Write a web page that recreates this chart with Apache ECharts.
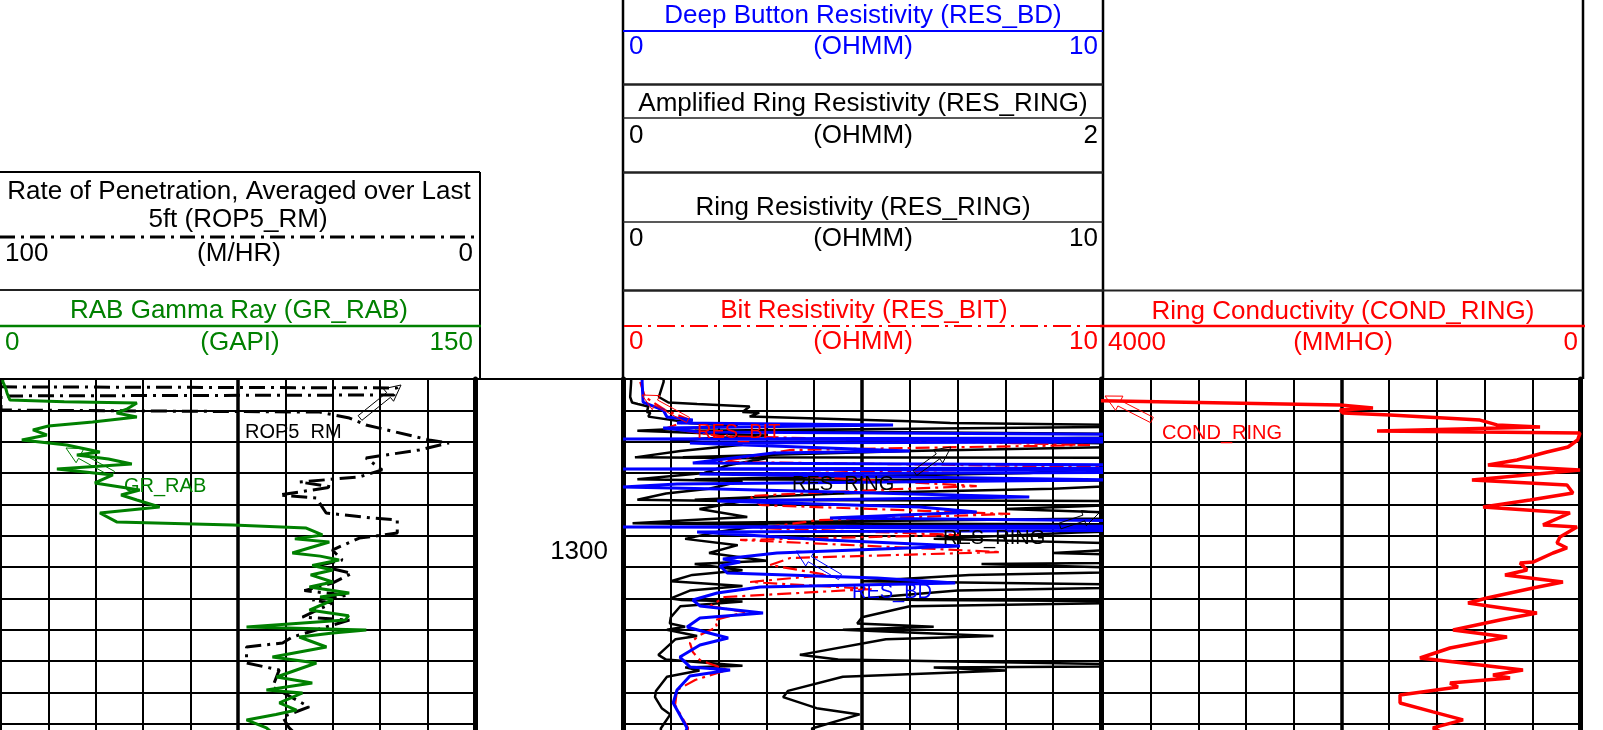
<!DOCTYPE html>
<html>
<head>
<meta charset="utf-8">
<script src="https://cdn.jsdelivr.net/npm/echarts@6/dist/echarts.min.js"></script>
<style>
html, body { margin: 0; padding: 0; background: #fff; }
#main { width: 1603px; height: 730px; }
</style>
</head>
<body>
<div id="main"></div>
<script>
// depth (m) top / bottom of the plotted window, grid rows are 2 m
const depthTop = 1289
const depthBottom = 1314.52
const rowCount = 12.76
const depthLabels = [1300]

// [depth, value] pairs
const gr = [[1289.0, 0.5], [1289.19, 0.6], [1289.6, 1.5], [1289.89, 1.9], [1290.34, 2.8], [1290.45, 20], [1290.53, 43], [1290.9, 40],
  [1291.17, 36.6], [1291.42, 43], [1291.74, 29], [1292.0, 15], [1292.25, 10.1], [1292.57, 14.5], [1292.89, 6.6], [1293.21, 20.8],
  [1293.66, 31.3], [1293.85, 24], [1294.1, 34], [1294.42, 41.4], [1294.74, 17.7], [1295.12, 35.4], [1295.63, 29.7], [1296.08, 43.9],
  [1296.4, 38], [1296.72, 43], [1297.17, 50.2], [1297.55, 31.3], [1298.12, 36.6], [1298.31, 73.3], [1298.51, 96.6], [1298.95, 101.7],
  [1299.2, 93], [1299.4, 103.9], [1300.1, 92.2], [1300.3, 101], [1300.55, 107], [1300.9, 98.5], [1301.19, 105], [1301.5, 98],
  [1301.95, 105], [1302.27, 97.6], [1302.65, 110.2], [1302.9, 101], [1303.1, 105], [1303.74, 97.6], [1304.1, 110], [1304.38, 109],
  [1304.82, 77.7], [1305.01, 115.6], [1305.2, 105], [1305.46, 94.4], [1306.1, 103], [1306.74, 85.9], [1307.12, 99.8], [1308.01, 87.2],
  [1308.39, 98.5], [1308.84, 84], [1309.03, 95.4], [1309.67, 88.1], [1310.12, 93.5], [1310.4, 87], [1310.75, 77.7], [1311.26, 84], [1311.6, 86]]

const rop = [[1289.5, 100], [1289.57, 16.4], [1290.02, 17.1], [1290.08, 100], [1290.98, 100], [1291.11, 32.8], [1291.49, 26.5],
  [1291.93, 23], [1292.89, 9.7], [1293.08, 5.5], [1293.53, 11.8], [1294.04, 23], [1294.8, 19.6], [1295.25, 24.4], [1295.57, 37],
  [1295.89, 30.1], [1296.4, 41.3], [1296.59, 33.5], [1297.55, 31.4], [1297.87, 21.7], [1298.0, 16.4], [1298.83, 16.4], [1299.15, 24.4],
  [1299.91, 30.1], [1300.55, 28], [1300.9, 33], [1301.4, 26], [1302.02, 30.1], [1302.5, 36], [1302.8, 27], [1303.1, 34.3],
  [1303.29, 30.1], [1304.19, 36.4], [1304.38, 26.5], [1305.46, 38.5], [1305.84, 40.6], [1306.1, 48.2], [1307.12, 48.2], [1307.56, 41.3],
  [1308.65, 42.7], [1309.92, 35], [1310.56, 40.6], [1311.26, 39.2], [1311.6, 38]]

const resBd = [[1289.0, 0.4], [1289.19, 0.4], [1290.47, 0.42], [1290.98, 0.84], [1291.42, 0.92], [1291.62, 1.46], [1291.81, 1.13],
  [1291.93, 5.65], [1292.13, 0.84], [1292.38, 1.61], [1292.7, 20], [1292.83, 0], [1292.96, 20], [1293.08, 1.4], [1293.6, 6.0],
  [1293.72, 3.14], [1294.36, 1.46], [1294.61, 20], [1294.74, 0], [1294.87, 20], [1295.06, 1.6], [1295.44, 10.4], [1295.7, 1.13],
  [1295.89, 0], [1296.02, 2], [1296.53, 8.5], [1296.78, 1.97], [1297.17, 6.2], [1297.49, 7.4], [1297.87, 4.33], [1298.31, 20],
  [1298.44, 0], [1298.57, 20], [1298.76, 1.55], [1299.27, 4.27], [1299.66, 7.05], [1300.1, 3.22], [1300.48, 2.09], [1300.67, 2.45],
  [1300.93, 2.03], [1301.38, 2.18], [1301.69, 5.31], [1302.01, 6.95], [1302.27, 2.87], [1302.65, 1.97], [1303.1, 1.46], [1303.48, 1.61],
  [1303.93, 2.93], [1304.25, 1.61], [1304.82, 1.34], [1305.14, 1.72], [1305.52, 2.2], [1305.97, 1.61], [1306.74, 1.19], [1307.37, 1.4],
  [1307.56, 2.24], [1307.95, 1.4], [1308.84, 1.13], [1309.67, 1.05], [1310.44, 1.19], [1311.26, 1.34], [1311.6, 1.3]]

const resBit = [[1289.19, 0.36], [1290.15, 0.46], [1290.98, 0.88], [1291.62, 1.4], [1292.13, 0.92], [1292.64, 2.03], [1293.21, 9.77],
  [1293.53, 3.49], [1294.29, 2.03], [1294.61, 10.2], [1295.06, 2.87], [1295.83, 7.4], [1296.08, 5.3], [1296.46, 2.66], [1297.04, 2.87],
  [1297.61, 8.1], [1298.0, 4.1], [1298.51, 2.87], [1298.95, 7.05], [1299.27, 2.45], [1300.04, 7.9], [1300.42, 3.5], [1300.87, 3.08],
  [1301.5, 4.27], [1301.95, 2.66], [1302.4, 5.2], [1302.91, 2.13], [1303.48, 1.82], [1303.87, 2.55], [1304.38, 1.92], [1304.82, 1.97],
  [1305.33, 1.61], [1305.84, 1.4], [1306.42, 1.46], [1306.93, 1.61], [1307.56, 2.18], [1308.2, 1.51], [1308.84, 1.13], [1309.8, 1.09],
  [1311.26, 1.36], [1311.6, 1.35]]

const resRing = [[1289.0, 0.17], [1289.19, 0.17], [1290.15, 0.15], [1290.5, 0.19], [1290.6, 0.31], [1290.75, 0.53], [1291.1, 0.5],
  [1291.15, 0.57], [1291.4, 0.53], [1291.7, 1.2], [1291.8, 1.37], [1292.0, 2.4], [1292.3, 0.3], [1292.6, 3.0], [1292.9, 1.0],
  [1293.2, 2.5], [1293.6, 1.2], [1294.0, 0.25], [1294.05, 3.0], [1294.5, 2.2], [1295.0, 1.7], [1295.4, 0.3], [1295.5, 2.5],
  [1296.0, 1.8], [1296.3, 0.9], [1296.7, 0.3], [1296.8, 2.5], [1297.3, 1.6], [1297.8, 2.6], [1298.2, 0.2], [1298.3, 3.0],
  [1298.8, 1.9], [1299.2, 1.3], [1299.6, 2.4], [1300.1, 1.8], [1300.6, 3.0], [1300.8, 1.5], [1301.2, 2.5], [1301.5, 1.45],
  [1301.9, 1.0], [1302.2, 2.5], [1302.5, 1.4], [1303.0, 1.0], [1303.1, 1.23], [1303.2, 2.5], [1303.5, 1.2], [1304.2, 1.0],
  [1304.6, 0.98], [1304.8, 1.3], [1305.0, 0.92], [1305.4, 1.55], [1305.6, 1.1], [1306.6, 0.74], [1306.9, 0.9], [1307.3, 2.5],
  [1307.4, 1.3], [1307.6, 1.6], [1308.0, 0.92], [1308.9, 0.69], [1309.3, 0.67], [1310.0, 0.81], [1310.4, 0.99], [1311.3, 0.79], [1311.6, 0.8]]

const condRing = [[1289.0, 5000], [1290.38, 4100], [1290.66, 2013], [1290.85, 1736], [1290.98, 2013], [1291.17, 1987], [1291.3, 1593],
  [1291.62, 839], [1291.93, 696], [1292.06, 335], [1292.32, 1702], [1292.45, 0], [1292.89, 20], [1293.34, 100], [1293.66, 277],
  [1294.17, 528], [1294.49, 772], [1294.81, 0], [1295.44, 906], [1295.76, 109], [1296.27, 59], [1296.72, 419], [1297.17, 813],
  [1297.55, 84], [1298.31, 310], [1298.44, 25], [1299.08, 168], [1299.46, 193], [1299.78, 109], [1300.1, 226], [1300.68, 394],
  [1300.74, 503], [1301.19, 444], [1301.5, 629], [1301.95, 143], [1302.33, 394], [1302.97, 780], [1303.29, 939], [1303.93, 361],
  [1304.38, 671], [1305.01, 1065], [1305.46, 612], [1306.16, 1090], [1306.8, 1342], [1307.56, 478], [1307.88, 730], [1308.08, 587],
  [1308.4, 1090], [1308.65, 1023], [1309.16, 1509], [1309.67, 1509], [1310.24, 1233], [1310.75, 981], [1311.26, 1233], [1311.6, 1150]]

const font = 'Liberation Sans, Arial, Helvetica, sans-serif'
const GREEN = '#008000'
const BLUE = '#0000ff'
const RED = '#ff0000'

const chartInstance = echarts.init(document.getElementById('main'), null, { renderer: 'canvas' })

// axis helpers
function depthAxis(gridIndex, lineWidth, showLabel) {
  return {
    type: 'value', gridIndex, position: 'left', inverse: true,
    min: depthTop, max: depthBottom,
    axisLine: { show: true, onZero: false, lineStyle: { color: '#000', width: lineWidth } },
    axisTick: { show: false },
    splitLine: { show: false },
    axisLabel: showLabel ? {
      show: true, customValues: depthLabels, margin: 15, padding: [4, 0, 0, 0],
      fontSize: 26, fontFamily: font, color: '#000',
      formatter: v => String(v)
    } : { show: false }
  }
}
function rowAxis(gridIndex) {
  return {
    type: 'value', gridIndex, position: 'right', inverse: true,
    min: 0, max: rowCount, interval: 1,
    axisLine: { show: true, onZero: false, lineStyle: { color: '#000', width: 5 } },
    axisTick: { show: false }, axisLabel: { show: false },
    splitLine: { show: true, showMinLine: true, showMaxLine: false, lineStyle: { color: '#000', width: 2 } }
  }
}
function gridLineAxis(gridIndex, max, width) {
  return {
    type: 'value', gridIndex, position: 'top', min: 0, max, interval: 1,
    axisLine: { show: false }, axisTick: { show: false }, axisLabel: { show: false },
    splitLine: { show: true, showMinLine: false, showMaxLine: false, lineStyle: { color: '#000', width } }
  }
}
function curveAxis(gridIndex, min, max, inverse) {
  return { type: 'value', gridIndex, min, max, inverse: !!inverse, show: false }
}
function curve(name, pairs, xAxisIndex, yAxisIndex, color, width, type, z) {
  return {
    name, type: 'line', xAxisIndex, yAxisIndex,
    data: pairs.map(p => [p[1], p[0]]),
    showSymbol: false, symbol: 'none', animation: false, clip: true, z: z,
    lineStyle: { color, width, type: type || 'solid' }
  }
}

// header helpers
function txt(text, x, y, color, align, size) {
  return {
    type: 'text', x, y, z: 20,
    style: { text, fill: color, fontSize: size || 26, fontFamily: font, textAlign: align || 'center', textVerticalAlign: 'middle' }
  }
}
function hline(x1, x2, y, color, width, dash) {
  return { type: 'line', z: 20, shape: { x1, y1: y, x2, y2: y }, style: { stroke: color, lineWidth: width, lineDash: dash || null } }
}
function vline(x, y1, y2, color, width) {
  return { type: 'line', z: 20, shape: { x1: x, y1, x2: x, y2 }, style: { stroke: color, lineWidth: width } }
}
// hollow arrow used to tag the curves
function arrow(x1, y1, x2, y2, color) {
  const dx = x2 - x1, dy = y2 - y1
  const len = Math.sqrt(dx * dx + dy * dy)
  const ux = dx / len, uy = dy / len
  const nx = -uy, ny = ux
  const hx = x2 - ux * 16, hy = y2 - uy * 16
  const pts = [
    [x1 + nx * 3, y1 + ny * 3], [hx + nx * 3, hy + ny * 3], [hx + nx * 8, hy + ny * 8], [x2, y2],
    [hx - nx * 8, hy - ny * 8], [hx - nx * 3, hy - ny * 3], [x1 - nx * 3, y1 - ny * 3]
  ]
  return { type: 'polygon', z: 20, shape: { points: pts }, style: { fill: 'rgba(255,255,255,0)', stroke: color, lineWidth: 1 } }
}
function tag(text, tx, ty, ax1, ay1, ax2, ay2, color) {
  return [txt(text, tx, ty, color, 'left', 20), arrow(ax1, ay1, ax2, ay2, color)]
}

const graphics = [
  // track 1 header
  hline(0, 480, 172, '#000', 2),
  vline(480, 172, 379, '#000', 2),
  txt('Rate of Penetration, Averaged over Last', 239, 192, '#000'),
  txt('5ft (ROP5_RM)', 238, 220, '#000'),
  hline(0, 480, 237, '#000', 3, [15, 6, 3, 6]),
  txt('100', 5, 254, '#000', 'left'),
  txt('(M/HR)', 239, 254, '#000'),
  txt('0', 473, 254, '#000', 'right'),
  hline(0, 480, 290, '#222', 2),
  txt('RAB Gamma Ray (GR_RAB)', 239, 311, GREEN),
  hline(0, 481, 326, GREEN, 2.5),
  txt('0', 5, 343, GREEN, 'left'),
  txt('(GAPI)', 240, 343, GREEN),
  txt('150', 473, 343, GREEN, 'right'),
  hline(0, 1583, 379, '#000', 2),
  // resistivity header
  vline(623, 0, 379, '#000', 2.5),
  vline(1103, 0, 379, '#000', 2.5),
  txt('Deep Button Resistivity (RES_BD)', 863, 16, BLUE),
  hline(623, 1103, 31, BLUE, 2),
  txt('0', 629, 47, BLUE, 'left'),
  txt('(OHMM)', 863, 47, BLUE),
  txt('10', 1098, 47, BLUE, 'right'),
  hline(623, 1103, 84.5, '#222', 2.5),
  txt('Amplified Ring Resistivity (RES_RING)', 863, 104, '#000'),
  hline(623, 1103, 118, '#222', 1.5),
  txt('0', 629, 136, '#000', 'left'),
  txt('(OHMM)', 863, 136, '#000'),
  txt('2', 1098, 136, '#000', 'right'),
  hline(623, 1103, 172.5, '#222', 2.5),
  txt('Ring Resistivity (RES_RING)', 863, 208, '#000'),
  hline(623, 1103, 222, '#222', 1.5),
  txt('0', 629, 239, '#000', 'left'),
  txt('(OHMM)', 863, 239, '#000'),
  txt('10', 1098, 239, '#000', 'right'),
  hline(623, 1103, 290.5, '#222', 2.5),
  txt('Bit Resistivity (RES_BIT)', 864, 311, RED),
  hline(624, 1110, 326, RED, 2, [18, 6, 3, 6]),
  txt('0', 629, 342, RED, 'left'),
  txt('(OHMM)', 863, 342, RED),
  txt('10', 1098, 342, RED, 'right'),
  // conductivity header
  vline(1583, 0, 379, '#000', 2.5),
  hline(1103, 1583, 290.5, '#222', 2),
  txt('Ring Conductivity (COND_RING)', 1343, 312, RED),
  hline(1100, 1585, 326, RED, 2.5),
  txt('4000', 1108, 343, RED, 'left'),
  txt('(MMHO)', 1343, 343, RED),
  txt('0', 1578, 343, RED, 'right')
].concat(
  tag('ROP5_RM', 245, 432, 360, 418, 401, 385, '#000'),
  tag('GR_RAB', 124, 486, 113, 474, 66, 448, GREEN),
  tag('RES_BIT', 697, 432, 688, 420, 642, 395, RED),
  tag('RES_RING', 792, 484, 915, 473, 951, 447, '#000'),
  tag('RES_RING', 943, 538, 1060, 526, 1099, 513, '#000'),
  tag('RES_BD', 852, 592, 840, 577, 796, 551, BLUE),
  tag('COND_RING', 1162, 433, 1152, 420, 1105, 396, RED)
)

const option = {
  backgroundColor: '#fff',
  animation: false,
  grid: [
    { left: 1, top: 379, width: 474, height: 400, outerBoundsMode: 'none', containLabel: false },
    { left: 623, top: 379, width: 478, height: 400, outerBoundsMode: 'none', containLabel: false },
    { left: 1103, top: 379, width: 477, height: 400, outerBoundsMode: 'none', containLabel: false }
  ],
  xAxis: [
    gridLineAxis(0, 10, 2),      // 0
    gridLineAxis(0, 2, 3.5),     // 1 centre line
    curveAxis(0, 0, 150),        // 2 GR
    curveAxis(0, 0, 100, true),  // 3 ROP
    gridLineAxis(1, 10, 2),      // 4
    gridLineAxis(1, 2, 3.5),     // 5
    curveAxis(1, 0, 10),         // 6 RES_BD / RES_BIT / RES_RING
    curveAxis(1, 0, 2),          // 7 amplified RES_RING
    gridLineAxis(2, 10, 2),      // 8
    gridLineAxis(2, 2, 3.5),     // 9
    curveAxis(2, 0, 4000, true)  // 10 COND_RING
  ],
  yAxis: [
    depthAxis(0, 2, false), rowAxis(0),
    depthAxis(1, 5, true), rowAxis(1),
    depthAxis(2, 2, false), rowAxis(2)
  ],
  series: [
    curve('ROP5_RM', rop, 3, 0, '#000', 3, [16, 6, 3, 6], 3),
    curve('GR_RAB', gr, 2, 0, GREEN, 3, 'solid', 4),
    curve('RES_RING amp', resRing, 7, 2, '#000', 2.5, 'solid', 3),
    curve('RES_RING', resRing, 6, 2, '#000', 2.5, 'solid', 3),
    curve('RES_BIT', resBit, 6, 2, RED, 2.2, [14, 5, 3, 5], 4),
    curve('RES_BD', resBd, 6, 2, BLUE, 3, 'solid', 5),
    curve('COND_RING', condRing, 10, 4, RED, 3.5, 'solid', 4)
  ],
  graphic: graphics
}
chartInstance.setOption(option)
</script>
</body>
</html>
